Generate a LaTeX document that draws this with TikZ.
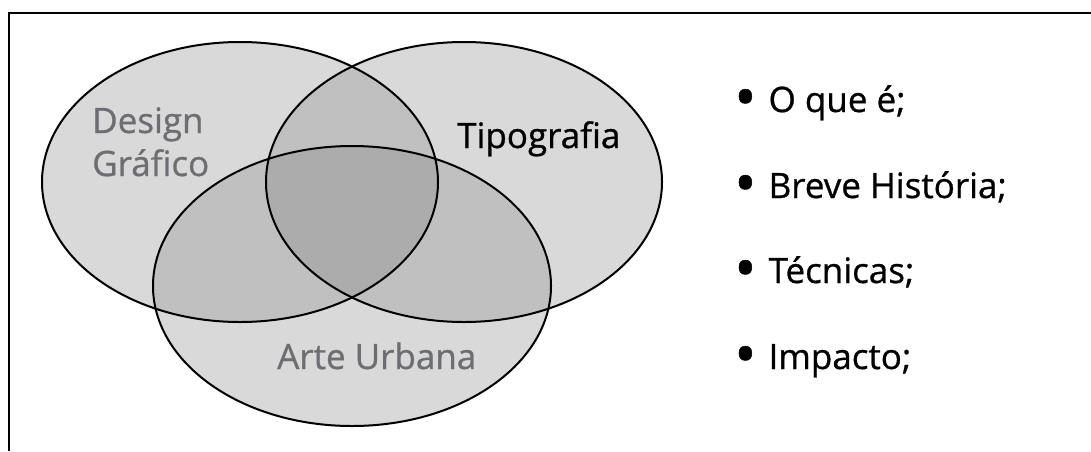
\documentclass[tikz,border=0pt]{standalone}
\usepackage{fontspec}
\setmainfont{Open Sans}[FakeBold=0.8]

\definecolor{vennone}{HTML}{D9D9D9}
\definecolor{venntwo}{HTML}{C0C0C0}
\definecolor{vennthree}{HTML}{ACACAC}
\definecolor{labelgray}{HTML}{6D6E71}

\tikzset{
  venn/.style={draw=black,line width=2pt},
  lbl/.style={anchor=base west,inner sep=0pt,font=\fontsize{35}{42}\selectfont},
  setlbl/.style={lbl,text=labelgray},
  item/.style={lbl,text=black},
}

% the three sets
\newcommand{\designset}{(240,182) ellipse [x radius=198,y radius=140]}
\newcommand{\tiposet}{(464,182) ellipse [x radius=198,y radius=140]}
\newcommand{\arteset}{(352,286) ellipse [x radius=199,y radius=140]}
\newcommand{\itembullet}{\raisebox{-6pt}{\scalebox{1.7}{\textbullet}}\hspace{12pt}}

\begin{document}
\begin{tikzpicture}[x=1pt,y=-1pt]

\useasboundingbox (0,0) rectangle (1091,451);
\draw[line width=2pt] (9,451) -- (9,13) -- (1091,13);

\fill[vennone] \designset;
\fill[vennone] \tiposet;
\fill[vennone] \arteset;

\begin{scope}
  \clip \designset;
  \fill[venntwo] \tiposet;
  \fill[venntwo] \arteset;
\end{scope}
\begin{scope}
  \clip \tiposet;
  \fill[venntwo] \arteset;
\end{scope}
\begin{scope}
  \clip \designset;
  \clip \tiposet;
  \fill[vennthree] \arteset;
\end{scope}

\draw[venn] \designset;
\draw[venn] \tiposet;
\draw[venn] \arteset;

\node[setlbl] (design) at (92,133) {Design};
\node[setlbl] (grafico) at (92,176) {Gráfico};
\node[item] (tipo) at (457,148) {Tipografia};
\node[setlbl] (arte) at (277,369) {Arte Urbana};

\node[item] (oque) at (734,112) {\itembullet O que é;};
\node[item] (historia) at (734,198) {\itembullet Breve História;};
\node[item] (tecnicas) at (734,283) {\itembullet Técnicas;};
\node[item] (impacto) at (734,369) {\itembullet Impacto;};

\end{tikzpicture}
\end{document}
